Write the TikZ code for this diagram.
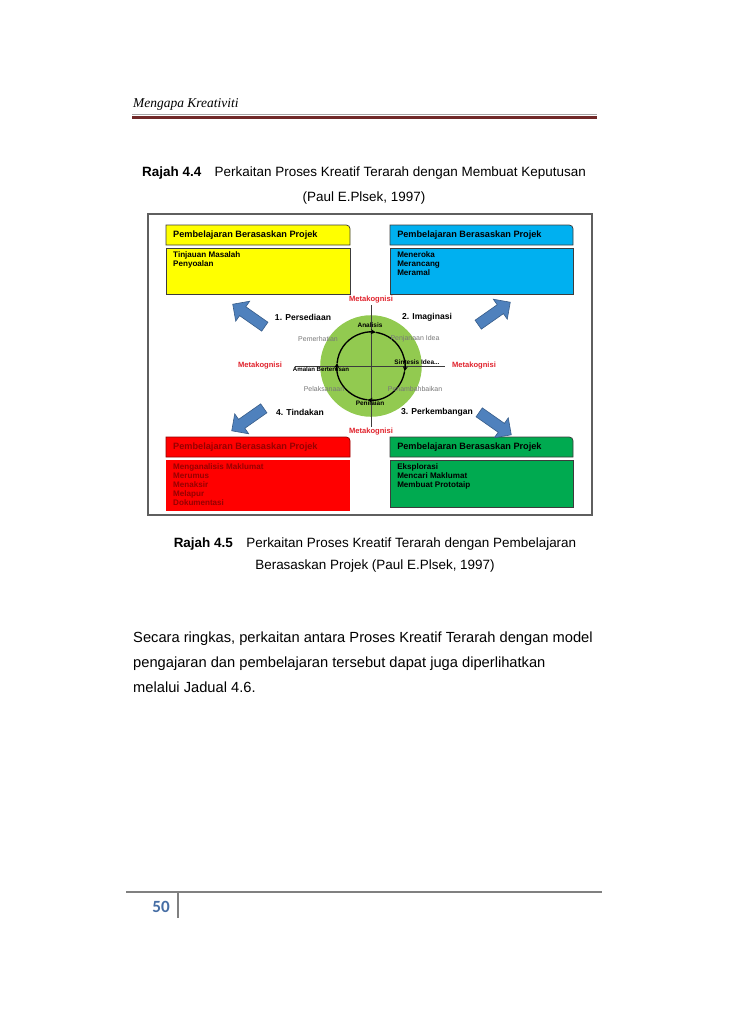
\documentclass[tikz,border=0pt]{standalone}
\usepackage{fontspec}
\setmainfont{Liberation Sans}
\newfontfamily\headfont{Liberation Serif}
\newfontfamily\numfont{Carlito}
\usetikzlibrary{arrows.meta,positioning,shapes.arrows}
\definecolor{boxYellow}{RGB}{255, 255, 0}
\definecolor{boxBlue}{RGB}{0, 176, 240}
\definecolor{boxRed}{RGB}{255, 0, 0}
\definecolor{boxGreen}{RGB}{0, 170, 80}
\definecolor{boxEdge}{RGB}{60, 60, 60}
\definecolor{inkDarkRed}{RGB}{150, 0, 0}
\definecolor{metaRed}{RGB}{225, 35, 45}
\definecolor{arrowBlue}{RGB}{79, 129, 189}
\definecolor{arrowEdge}{RGB}{56, 93, 138}
\definecolor{hubGreen}{RGB}{146, 202, 80}
\definecolor{inkGray}{RGB}{120, 120, 120}
\definecolor{frameGray}{RGB}{95, 95, 95}
\definecolor{ruleRed}{RGB}{112, 40, 40}
\definecolor{pageBlue}{RGB}{70, 110, 165}

\tikzset{
    hdrframe/.style={draw=boxEdge, line width=0.6pt},
    hdrtext/.style={anchor=west, inner sep=0pt, font=\fontsize{7.5pt}{8pt}\selectfont\bfseries},
    itemtext/.style={anchor=north west, inner sep=0pt, align=left, font=\fontsize{6.6pt}{7.4pt}\selectfont\bfseries},
    metatext/.style={text=metaRed, inner sep=1pt, font=\fontsize{6.2pt}{7pt}\selectfont\bfseries},
    phasetext/.style={inner sep=0pt, font=\fontsize{7pt}{8pt}\selectfont\bfseries},
    steptext/.style={inner sep=0pt, font=\fontsize{5.3pt}{6pt}\selectfont\bfseries},
    softtext/.style={inner sep=0pt, text=inkGray, font=\fontsize{5.7pt}{6pt}\selectfont},
    blockarrow/.style={single arrow, draw=arrowEdge, fill=arrowBlue, line width=0.5pt,
        minimum height=32pt, single arrow head extend=5.5pt, inner xsep=0pt, inner ysep=4.2pt},
    cyclearrow/.style={line width=1.1pt, -{Stealth[length=4pt, width=4pt]}},
    axisline/.style={draw=boxEdge, line width=0.4pt},
    captext/.style={anchor=base, inner sep=0pt, font=\fontsize{11pt}{13pt}\selectfont},
}

\begin{document}
\begin{tikzpicture}[x=0.8173pt, y=-0.8173pt]
    \useasboundingbox (0,0) rectangle (728,1030);
    \fill[white] (0,0) rectangle (728,1030);

    % running head
    \node[anchor=base west, inner sep=0pt, font=\headfont\itshape\fontsize{11pt}{13pt}\selectfont] (runHead) at (133,108) {Mengapa Kreativiti};
    \draw[black!35, line width=0.5pt] (132,114.5) -- (597,114.5);
    \draw[ruleRed, line width=2.6pt] (132,117.5) -- (597,117.5);

    % caption 4.4
    \node[captext] (capTopA) at (364,176) {\textbf{Rajah 4.4}\quad Perkaitan Proses Kreatif Terarah dengan Membuat Keputusan};
    \node[captext] (capTopB) at (364,201) {(Paul E.Plsek, 1997)};

    % figure frame
    \draw[frameGray, line width=1pt] (148,214) rectangle (592,515);

    % top-left box
    \draw[hdrframe, fill=boxYellow] (166,245) -- (166,225) [rounded corners=3pt] -- (350,225) [sharp corners] -- (350,245) -- cycle;
    \node[hdrtext] (yelHead) at (173,235) {Pembelajaran Berasaskan Projek};
    \draw[hdrframe, fill=boxYellow] (166,248) rectangle (350,294);
    \node[itemtext] (yelItems) at (173,251) {Tinjauan Masalah\\Penyoalan};

    % top-right box
    \draw[hdrframe, fill=boxBlue] (390,245) -- (390,225) [rounded corners=3pt] -- (573,225) [sharp corners] -- (573,245) -- cycle;
    \node[hdrtext] (bluHead) at (397,235) {Pembelajaran Berasaskan Projek};
    \draw[hdrframe, fill=boxBlue] (390,248) rectangle (573,294);
    \node[itemtext] (bluItems) at (397,251) {Meneroka\\Merancang\\Meramal};

    % bottom-left box
    \draw[hdrframe, draw=inkDarkRed, fill=boxRed] (166,457) -- (166,437) [rounded corners=3pt] -- (350,437) [sharp corners] -- (350,457) -- cycle;
    \node[hdrtext, text=inkDarkRed] (redHead) at (173,447) {Pembelajaran Berasaskan Projek};
    \fill[boxRed] (166,460) rectangle (350,511);
    \node[itemtext, text=inkDarkRed] (redItems) at (173,463) {Menganalisis Maklumat\\Merumus\\Menaksir\\Melapur\\Dokumentasi};

    % bottom-right box
    \draw[hdrframe, fill=boxGreen] (390,457) -- (390,437) [rounded corners=3pt] -- (573,437) [sharp corners] -- (573,457) -- cycle;
    \node[hdrtext] (grnHead) at (397,447) {Pembelajaran Berasaskan Projek};
    \draw[hdrframe, fill=boxGreen] (390,460) rectangle (573,507);
    \node[itemtext] (grnItems) at (397,463) {Eksplorasi\\Mencari Maklumat\\Membuat Prototaip};

    % centre cycle
    \node[circle, fill=hubGreen, minimum size=83pt, inner sep=0pt] (hub) at (371,366) {};
    \node[metatext] (metaTop) at (371,300) {Metakognisi};
    \node[metatext] (metaBot) at (371,432) {Metakognisi};
    \node[metatext] (metaLeft) at (260,366) {Metakognisi};
    \node[metatext] (metaRight) at (474,366) {Metakognisi};
    \coordinate (axisW) at (295,366);
    \coordinate (axisE) at (445,366);
    \draw[axisline] (metaTop) -- (metaBot);
    \draw[axisline] (axisW) -- (axisE);
    \draw[cyclearrow] (hub.center) ++(185:34) arc[start angle=185, end angle=278, radius=34];
    \draw[cyclearrow] (hub.center) ++(278:34) arc[start angle=278, end angle=369, radius=34];
    \draw[cyclearrow] (hub.center) ++(9:34) arc[start angle=9, end angle=96, radius=34];
    \draw[cyclearrow] (hub.center) ++(96:34) arc[start angle=96, end angle=185, radius=34];

    \node[steptext] (analisis) at (370,325) {Analisis};
    \node[softtext] (pemerhatian) at (318,339) {Pemerhatian};
    \node[softtext] (penjanaan) at (415,339) {Penjanaan Idea};
    \node[steptext] (sintesis) at (417,362) {Sintesis Idea...};
    \node[steptext, font=\fontsize{5pt}{6pt}\selectfont\bfseries] (amalan) at (321,369) {Amalan Berterusan};
    \node[softtext] (pelaksanaan) at (324,389) {Pelaksanaan};
    \node[softtext] (penambahbaikan) at (415,389) {Penambahbaikan};
    \node[steptext] (penilaian) at (370,403) {Penilaian};

    % phases
    \node[phasetext] (phaseA) at (303,317) {1. Persediaan};
    \node[phasetext] (phaseB) at (427,317) {2. Imaginasi};
    \node[phasetext] (phaseC) at (437,412) {3. Perkembangan};
    \node[phasetext] (phaseD) at (300,412) {4. Tindakan};

    % block arrows to the boxes
    \node[blockarrow, rotate=145] (arrNW) at (251,317) {};
    \node[blockarrow, rotate=35] (arrNE) at (492,315) {};
    \node[blockarrow, rotate=-35] (arrSE) at (493,422) {};
    \node[blockarrow, rotate=215] (arrSW) at (250,418) {};

    % caption 4.5
    \node[captext] (capLowA) at (375,547) {\textbf{Rajah 4.5}\quad Perkaitan Proses Kreatif Terarah dengan Pembelajaran};
    \node[captext] (capLowB) at (375,569) {Berasaskan Projek (Paul E.Plsek, 1997)};

    % body text
    \node[anchor=base west, inner sep=0pt, font=\fontsize{12pt}{14pt}\selectfont] (paraA) at (133,642) {Secara ringkas, perkaitan antara Proses Kreatif Terarah dengan model};
    \node[anchor=base west, inner sep=0pt, font=\fontsize{12pt}{14pt}\selectfont] (paraB) at (133,667) {pengajaran dan pembelajaran tersebut dapat juga diperlihatkan};
    \node[anchor=base west, inner sep=0pt, font=\fontsize{12pt}{14pt}\selectfont] (paraC) at (133,692) {melalui Jadual 4.6.};

    % footer
    \draw[black!50, line width=1.6pt] (126,892) -- (602,892);
    \draw[black!50, line width=1.6pt] (178,892) -- (178,918);
    \node[text=pageBlue, inner sep=0pt, font=\numfont\bfseries\fontsize{14pt}{16pt}\selectfont] (pageNo) at (161,907) {50};
\end{tikzpicture}
\end{document}
